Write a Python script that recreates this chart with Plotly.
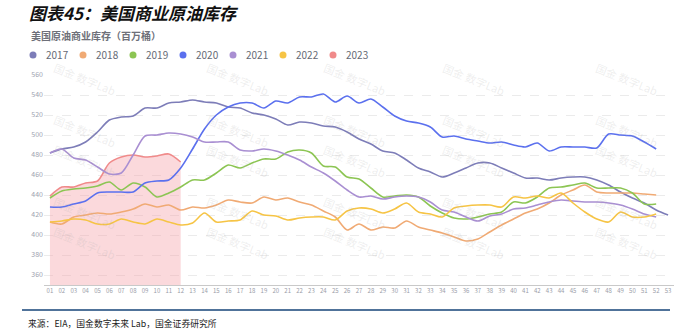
import plotly.graph_objects as go

# ---------------- data ----------------
weeks = [f"{i:02d}" for i in range(1, 54)]

y2017 = [482, 486, 488, 493, 503, 515, 518, 519, 527, 527, 532, 533, 535, 533, 532, 528,
         527, 522, 520, 516, 510, 513, 512, 509, 508, 503, 496, 491, 484, 482, 475, 467,
         463, 458, 462, 467, 472, 472, 467, 462, 457, 457, 455, 457, 458, 458, 455, 450,
         443, 437, 432, 425, 420]
y2018 = [413, 411, 418, 420, 422, 421, 423, 426, 431, 428, 430, 425, 428, 427, 430, 435,
         433, 432, 438, 435, 437, 433, 430, 424, 418, 405, 411, 405, 408, 407, 414, 408,
         405, 402, 398, 394, 396, 403, 410, 416, 422, 426, 432, 440, 445, 450, 443, 442,
         442, 442, 441, 440]
y2019 = [437, 444, 446, 447, 449, 453, 445, 452, 448, 438, 442, 448, 455, 455, 462, 470,
         467, 472, 476, 476, 483, 485, 482, 469, 468, 458, 456, 447, 438, 439, 440, 438,
         429, 422, 417, 416, 418, 421, 423, 433, 432, 438, 447, 448, 450, 452, 447, 447,
         447, 442, 431, 431]
y2020 = [428, 428, 431, 434, 442, 443, 443, 443, 452, 454, 455, 467, 486, 506, 520, 528,
         532, 532, 527, 534, 532, 538, 538, 541, 533, 539, 532, 536, 528, 519, 514, 512,
         508, 498, 499, 496, 494, 492, 493, 490, 488, 492, 484, 488, 488, 488, 487, 501,
         500, 499, 493, 486]
y2021 = [482, 486, 477, 475, 468, 461, 462, 480, 499, 500, 502, 501, 498, 493, 493, 493,
         485, 484, 486, 484, 480, 475, 468, 462, 454, 445, 438, 439, 436, 438, 439, 438,
         433, 425, 423, 418, 414, 419, 421, 426, 427, 430, 433, 435, 434, 433, 433, 432,
         430, 426, 421, 418]
y2022 = [413, 414, 416, 415, 411, 411, 416, 413, 411, 416, 413, 410, 412, 422, 413, 414,
         415, 424, 420, 419, 415, 417, 418, 418, 415, 424, 427, 426, 422, 426, 432, 423,
         421, 418, 427, 429, 430, 430, 428, 438, 437, 439, 437, 442, 432, 423, 416, 413,
         423, 418, 418, 421]
y2023 = [439, 448, 448, 452, 454, 472, 478, 480, 478, 479, 481, 473]

names = ["2017", "2018", "2019", "2020", "2021", "2022", "2023"]
values = [y2017, y2018, y2019, y2020, y2021, y2022, y2023]
colors = ["#7d7db8", "#f0aa74", "#8cc553", "#5b70ee", "#a98fd2", "#f6c445", "#f08a8a"]

y_ticks = [360, 380, 400, 420, 440, 460, 480, 500, 520, 540, 560]

chart_title = "美国原油商业库存（百万桶）"
header = "图表45：美国商业原油库存"
source = "来源：EIA，国金数字未来 Lab，国金证券研究所"
watermark = "国金 数字Lab"

# ---------------- layout geometry ----------------
W, H = 691, 336
L, R, T, B = 44, 17, 75, 51
PW, PH = W - L - R, H - T - B


def px(x):
    return (x - L) / PW


def py(y):
    return (H - B - y) / PH


FONT = "Noto Sans CJK SC"

fig = go.Figure()

# 2023 with area first (underneath)
fig.add_trace(go.Scatter(
    x=weeks[:len(y2023)], y=y2023, name="2023", mode="lines",
    line=dict(color=colors[6], width=1.6, shape="spline", smoothing=0.8),
    fill="tozeroy", fillcolor="rgba(244,160,168,0.40)", hoverinfo="skip",
))
for name, vals, col in zip(names[:6], values[:6], colors[:6]):
    fig.add_trace(go.Scatter(
        x=weeks[:len(vals)], y=vals, name=name, mode="lines",
        line=dict(color=col, width=1.6, shape="spline", smoothing=0.8),
        hoverinfo="skip",
    ))

annotations = []
shapes = []

# watermarks
for row_y in [57, 109, 161, 213, 265]:
    for col_x in [49, 202, 355, 510, 663]:
        annotations.append(dict(
            x=px(col_x), y=py(row_y), xref="paper", yref="paper", text=watermark,
            showarrow=False, textangle=22,
            font=dict(family=FONT, size=11, color="rgba(170,170,170,0.2)"),
        ))

# header
annotations.append(dict(
    x=px(27), y=py(13), xref="paper", yref="paper", xanchor="left", yanchor="middle",
    text="<b><i>" + header + "</i></b>", showarrow=False,
    font=dict(family=FONT, size=17, color="#111111", style="italic"),
))
# chart title
annotations.append(dict(
    x=px(29), y=py(35), xref="paper", yref="paper", xanchor="left", yanchor="middle",
    text="<b>" + chart_title + "</b>", showarrow=False,
    font=dict(family=FONT, size=10, color="#6e7079"),
))
# legend (manual)
for i, (name, col) in enumerate(zip(names, colors)):
    cx = 33 + 50 * i
    shapes.append(dict(
        type="circle", xref="paper", yref="paper",
        x0=px(cx - 3.5), x1=px(cx + 3.5), y0=py(55 + 3.5), y1=py(55 - 3.5),
        fillcolor=col, line=dict(width=0),
    ))
    annotations.append(dict(
        x=px(cx + 11), y=py(55), xref="paper", yref="paper", xanchor="left", yanchor="middle",
        text=name, showarrow=False, font=dict(family=FONT, size=10, color="#666a75"),
    ))
# source text
annotations.append(dict(
    x=px(26), y=py(323), xref="paper", yref="paper", xanchor="left", yanchor="middle",
    text=source, showarrow=False, font=dict(family=FONT, size=8.8, color="#222222"),
))
# bottom rule
shapes.append(dict(
    type="line", xref="paper", yref="paper", x0=px(22), x1=px(670), y0=py(310), y1=py(310),
    line=dict(color="#50739a", width=2),
))

fig.update_layout(
    width=W, height=H, autosize=False,
    margin=dict(l=L, r=R, t=T, b=B),
    paper_bgcolor="white", plot_bgcolor="white",
    showlegend=False,
    annotations=annotations, shapes=shapes,
    font=dict(family=FONT),
)
fig.update_xaxes(
    type="category", categoryorder="array", categoryarray=weeks,
    range=[-0.5, len(weeks) - 0.5],
    showline=True, linecolor="#c9c9c9", linewidth=1,
    showgrid=False, zeroline=False, ticks="",
    tickfont=dict(size=6, color="#9a9da8"),
    tickangle=0,
)
fig.update_yaxes(
    range=[350, 560], tickvals=y_ticks, showline=False, zeroline=False,
    showgrid=True, gridcolor="#ebebeb", griddash="dash", gridwidth=1,
    tickfont=dict(size=7, color="#a0a3b0"), ticks="",
)

fig.write_html("out.html")
